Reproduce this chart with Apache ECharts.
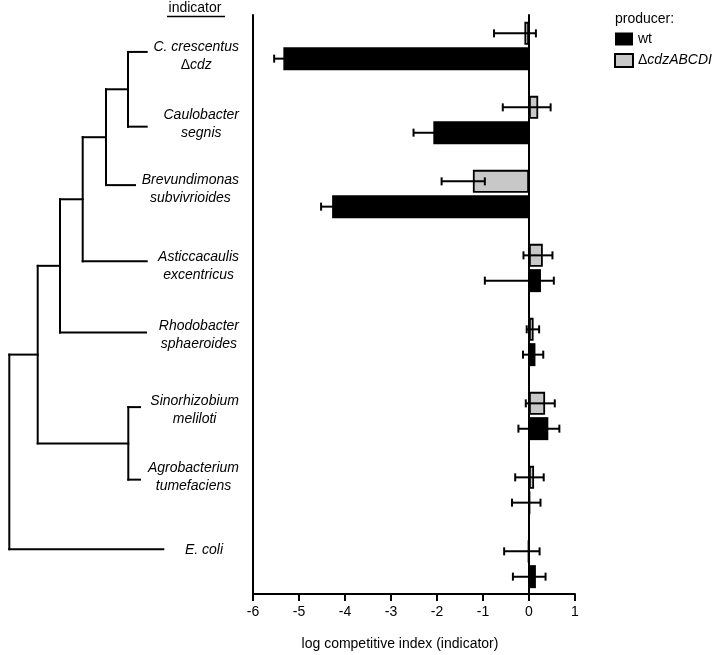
<!DOCTYPE html>
<html><head><meta charset="utf-8">
<script src="https://cdn.jsdelivr.net/npm/echarts@6/dist/echarts.min.js"></script>
<style>html,body{margin:0;padding:0;background:#fff}#c{width:714px;height:655px}</style>
</head><body><div id="c"></div>
<script>
// ---------- data ----------
const indicators = ['C. crescentus\nΔcdz','Caulobacter\nsegnis','Brevundimonas\nsubvivrioides','Asticcacaulis\nexcentricus','Rhodobacter\nsphaeroides','Sinorhizobium\nmeliloti','Agrobacterium\ntumefaciens','E. coli'];
const seriesNames = ['wt','ΔcdzABCDI'];
const wtValues   = [-5.34,-2.08,-4.28, 0.26, 0.14, 0.42, 0.03, 0.15];
const wtErrLow   = [-5.54,-2.51,-4.52,-0.96,-0.13,-0.23,-0.37,-0.35];
const wtErrHigh  = [-5.14,-1.65,-4.04, 0.54, 0.31, 0.66, 0.25, 0.36];
const mutValues  = [-0.10, 0.20,-1.22, 0.30, 0.10, 0.35, 0.11,-0.02];
const mutErrLow  = [-0.76,-0.57,-1.90,-0.12,-0.05,-0.07,-0.30,-0.54];
const mutErrHigh = [ 0.15, 0.47,-0.96, 0.51, 0.22, 0.56, 0.32, 0.23];
const xMin = -6, xMax = 1, xInterval = 1;
// phylogenetic tree (rows in category units, depth in branch-length units)
const treeLeafRow   = [0.58,1.59,2.38,3.41,4.37,5.38,6.36,7.30];
const treeLeafDepth = [146.7,146.7,135,146.7,146,140,140,163.3];
const treeInternal = [
  {id:'A', children:[0,1],     depth:128},
  {id:'B', children:['A',2],   depth:106},
  {id:'C', children:['B',3],   depth:82.7},
  {id:'D', children:['C',4],   depth:60},
  {id:'E', children:[5,6],     depth:128.3},
  {id:'F', children:['D','E'], depth:37.7},
  {id:'R', children:['F',7],   depth:9.3}
];
const labelRow = [0.635,1.554,2.432,3.473,4.405,5.426,6.324,7.311];

// ---------- layout / style ----------
const FONT = "'Liberation Sans', Arial, Helvetica, sans-serif";
const BAR_W = 23, GAP_RATIO = 0.1;
const LABEL_RIGHT = 239, LABEL_RIGHT_LAST = 223;
const GRAY = '#c8c8c8';

// tree geometry from structure
const pos = {};
treeLeafRow.forEach((r,i)=>{ pos[i] = {x: treeLeafDepth[i], y: r}; });
const segments = [];
treeInternal.forEach(n=>{
  const ys = n.children.map(c=>pos[c].y);
  const lo = Math.min(...ys), hi = Math.max(...ys);
  pos[n.id] = {x: n.depth, y: (lo+hi)/2};
  segments.push([n.depth, lo, n.depth, hi]);
  n.children.forEach(c=>segments.push([n.depth, pos[c].y, pos[c].x, pos[c].y]));
});

const measure = document.createElement('canvas').getContext('2d');
measure.font = 'italic 14px ' + FONT;

// rich text: Greek delta upright, rest italic
function richLine(line){
  return line.split(/(Δ)/).filter(s=>s.length).map(s=> s === 'Δ' ? '{n|Δ}' : '{i|' + s + '}').join('');
}

function errRender(sign){
  return function(params, api){
    const c = api.value(0);
    const lo = api.coord([api.value(1), c]);
    const hi = api.coord([api.value(2), c]);
    const y = lo[1] + sign*(BAR_W/2 + BAR_W*GAP_RATIO/2);
    const st = {stroke:'#000', lineWidth:2};
    return {type:'group', children:[
      {type:'line', shape:{x1:lo[0],y1:y,x2:hi[0],y2:y}, style:st},
      {type:'line', shape:{x1:lo[0],y1:y-4,x2:lo[0],y2:y+4}, style:st},
      {type:'line', shape:{x1:hi[0],y1:y-4,x2:hi[0],y2:y+4}, style:st}
    ]};
  };
}

const chart = echarts.init(document.getElementById('c'), null, {renderer:'canvas'});
const catIdx = indicators.map((_,i)=>i);
chart.setOption({
  animation:false,
  backgroundColor:'#fff',
  textStyle:{fontFamily:FONT},
  grid:[
    {left:253, right:139, top:9, bottom:54},
    {left:253, right:139, top:15, bottom:61},
    {left:253, right:139, top:15, bottom:61},
    {left:0, width:250, top:9, bottom:54}
  ],
  xAxis:[
    {gridIndex:0, type:'value', min:xMin, max:xMax, show:false},
    {gridIndex:1, type:'value', min:xMin, max:xMax, interval:xInterval,
     axisLine:{onZero:false, lineStyle:{color:'#000', width:2}},
     axisTick:{length:7, lineStyle:{color:'#000', width:2}},
     axisLabel:{margin:11, color:'#000', fontSize:14, fontFamily:FONT},
     splitLine:{show:false}},
    {gridIndex:2, type:'value', min:xMin, max:xMax, show:false},
    {gridIndex:3, type:'value', min:0, max:250, show:false}
  ],
  yAxis:[
    {gridIndex:0, type:'category', data:indicators, inverse:true, show:false},
    {gridIndex:1, type:'value', min:0, max:1, axisLine:{show:true, onZero:false, lineStyle:{color:'#000', width:2}},
     axisTick:{show:false}, axisLabel:{show:false}, splitLine:{show:false}},
    {gridIndex:2, type:'value', min:0, max:1, axisLine:{show:true, onZero:true, lineStyle:{color:'#000', width:2}},
     axisTick:{show:false}, axisLabel:{show:false}, splitLine:{show:false}},
    {gridIndex:3, type:'value', min:0, max:8, inverse:true, show:false}
  ],
  legend:{
    data:[seriesNames[0], seriesNames[1]], orient:'vertical', left:614, top:32, padding:0,
    itemWidth:18, itemHeight:13, itemGap:7, icon:'rect',
    textStyle:{fontSize:14, color:'#000', fontFamily:FONT,
      rich:{n:{fontSize:14, color:'#000', fontFamily:FONT}, i:{fontSize:14, color:'#000', fontFamily:FONT, fontStyle:'italic'}}},
    formatter: n => n === 'wt' ? n : richLine(n)
  },
  graphic:[
    {type:'text', left:615, top:12, style:{text:'producer:', fontSize:14, fontFamily:FONT, fill:'#000'}},
    {type:'text', x:195, y:8.5, style:{text:'indicator', fontSize:14, fontFamily:FONT, fill:'#000', align:'center', verticalAlign:'middle'}},
    {type:'line', shape:{x1:167, y1:16.5, x2:225, y2:16.5}, style:{stroke:'#000', lineWidth:1.5}},
    {type:'text', x:400, y:644, style:{text:'log competitive index (indicator)', fontSize:14, fontFamily:FONT, fill:'#000', align:'center', verticalAlign:'middle'}}
  ],
  series:[
    {name:seriesNames[1], type:'bar', xAxisIndex:0, yAxisIndex:0, data:mutValues, barWidth:BAR_W, barGap:(GAP_RATIO*100)+'%',
     itemStyle:{color:GRAY, borderColor:'#000', borderWidth:1.8}, z:2},
    {name:seriesNames[0], type:'bar', xAxisIndex:0, yAxisIndex:0, data:wtValues, barWidth:BAR_W, barGap:(GAP_RATIO*100)+'%',
     itemStyle:{color:'#000'}, z:2},
    {type:'custom', xAxisIndex:0, yAxisIndex:0, z:3, silent:true,
     data:catIdx.map(i=>[i, mutErrLow[i], mutErrHigh[i]]), renderItem:errRender(-1)},
    {type:'custom', xAxisIndex:0, yAxisIndex:0, z:3, silent:true,
     data:catIdx.map(i=>[i, wtErrLow[i], wtErrHigh[i]]), renderItem:errRender(1)},
    {type:'custom', xAxisIndex:3, yAxisIndex:3, silent:true, data:segments,
     renderItem:(params, api)=>{
       const p1 = api.coord([api.value(0), api.value(1)]);
       const p2 = api.coord([api.value(2), api.value(3)]);
       return {type:'line', shape:{x1:p1[0],y1:p1[1],x2:p2[0],y2:p2[1]}, style:{stroke:'#000', lineWidth:2, lineCap:'square'}};
     }},
    {type:'custom', xAxisIndex:3, yAxisIndex:3, silent:true,
     data:catIdx.map(i=>[i === indicators.length-1 ? LABEL_RIGHT_LAST : LABEL_RIGHT, labelRow[i], i]),
     renderItem:(params, api)=>{
       const idx = api.value(2);
       const lines = indicators[idx].split('\n');
       const w = Math.max(...lines.map(t=>measure.measureText(t).width));
       const p = api.coord([api.value(0), api.value(1)]);
       return {type:'text', x:p[0]-w/2, y:p[1], style:{
         text: lines.map(richLine).join('\n'),
         fill:'#000', align:'center', verticalAlign:'middle', lineHeight:18,
         rich:{
           n:{fontSize:14, fontFamily:FONT, fontStyle:'normal', fill:'#000', lineHeight:18},
           i:{fontSize:14, fontFamily:FONT, fontStyle:'italic', fill:'#000', lineHeight:18}
         }}};
     }}
  ]
});
</script></body></html>
